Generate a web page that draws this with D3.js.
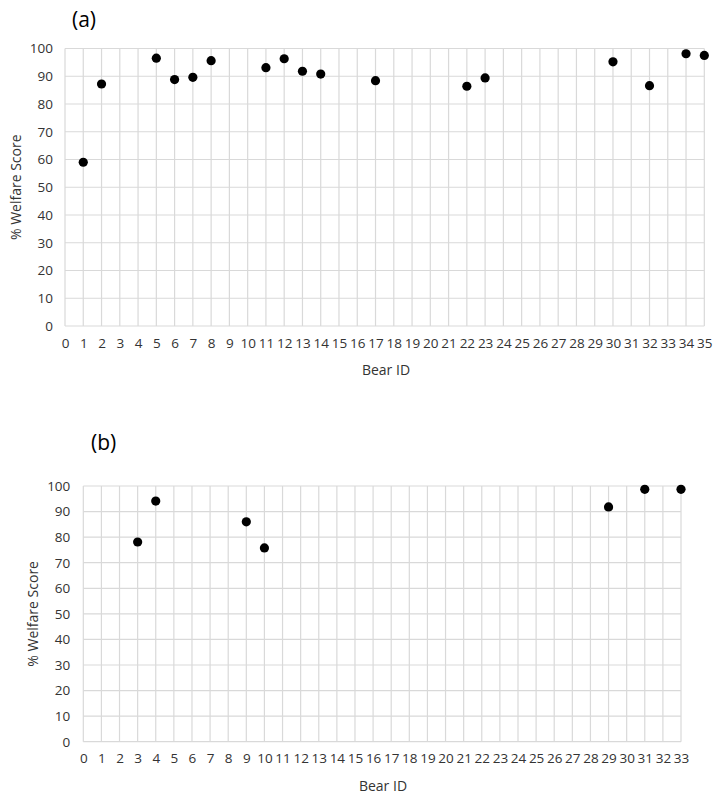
<!DOCTYPE html>
<html><head><meta charset="utf-8">
<script src="https://cdn.jsdelivr.net/npm/d3@7"></script>
<style>
body{margin:0;background:#fff;}
text{font-family:"Open Sans","Liberation Sans",sans-serif;}
</style></head>
<body><svg id="c" width="723" height="802"></svg>
<script>
// Panel (a)
const idsA = [1,2,5,6,7,8,11,12,13,14,17,22,23,30,32,34,35];
const scoresA = [59,87.2,96.5,88.8,89.6,95.6,93.1,96.3,91.8,90.8,88.4,86.4,89.4,95.2,86.6,98.1,97.5];
// Panel (b)
const idsB = [3,4,9,10,29,31,33];
const scoresB = [78.1,94.1,86.0,75.8,91.8,98.7,98.7];
const yTicks = [0,10,20,30,40,50,60,70,80,90,100];
const xMaxA = 35, xMaxB = 33;

const svg = d3.select("#c");
const txt = "#333333";

function panel(cfg){
  const g = svg.append("g");
  const x = d3.scaleLinear().domain([0,cfg.xMax]).range([cfg.left,cfg.right]);
  const y = d3.scaleLinear().domain([0,100]).range([cfg.bottom,cfg.top]);
  const xt = d3.range(0,cfg.xMax+1);
  // grid
  g.selectAll(".vx").data(xt).join("line")
    .attr("x1",d=>x(d)).attr("x2",d=>x(d)).attr("y1",y(0)).attr("y2",y(100))
    .attr("stroke","#d9d9d9").attr("stroke-width",1.2);
  g.selectAll(".hy").data(yTicks).join("line")
    .attr("x1",x(0)).attr("x2",x(cfg.xMax)).attr("y1",d=>y(d)).attr("y2",d=>y(d))
    .attr("stroke","#d9d9d9").attr("stroke-width",1.2);
  // axes labels
  const xa = d3.axisBottom(x).tickValues(xt).tickSize(0).tickPadding(12).tickFormat(d3.format("d"));
  const gx = g.append("g").attr("transform",`translate(0,${y(0)})`).call(xa);
  gx.select(".domain").remove();
  gx.selectAll("text").attr("fill",txt).style("font-size","13.5px");
  const ya = d3.axisLeft(y).tickValues(yTicks).tickSize(0).tickPadding(cfg.ypad);
  const gy = g.append("g").attr("transform",`translate(${x(0)},0)`).call(ya);
  gy.select(".domain").remove();
  gy.selectAll("text").attr("fill",txt).style("font-size","13.5px");
  // points
  g.selectAll("circle").data(cfg.ids.map((d,i)=>[d,cfg.vals[i]])).join("circle")
    .attr("cx",d=>x(d[0])).attr("cy",d=>y(d[1])).attr("r",4.6).attr("fill","#000");
  // titles
  g.append("text").attr("x",cfg.labX).attr("y",cfg.labY).attr("text-anchor","middle")
    .attr("fill",txt).style("font-size","14px").text("Bear ID");
  g.append("text").attr("transform",`translate(${cfg.ytX},${(y(0)+y(100))/2}) rotate(-90)`)
    .attr("text-anchor","middle").attr("fill",txt).style("font-size","14px").text("% Welfare Score");
  g.append("text").attr("x",cfg.pX).attr("y",cfg.pY).attr("fill","#000")
    .style("font-size","21px").text(cfg.panel);
}

panel({ids:idsA, vals:scoresA, xMax:xMaxA, left:65, right:704.3, top:48.5, bottom:326,
  ypad:12, labX:386, labY:375, ytX:21, pX:72, pY:27, panel:"(a)"});
panel({ids:idsB, vals:scoresB, xMax:xMaxB, left:83.3, right:681, top:486, bottom:741.7,
  ypad:13, labX:383, labY:791, ytX:38, pX:91, pY:450, panel:"(b)"});
</script></body></html>
